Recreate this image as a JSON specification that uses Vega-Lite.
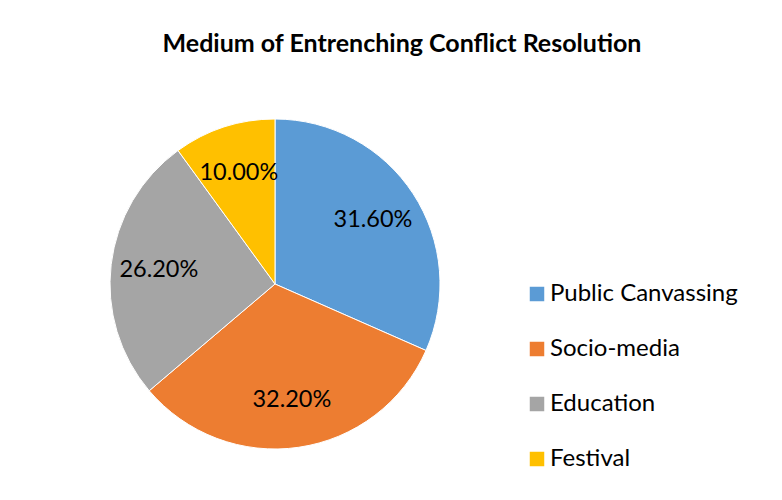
{
  "$schema": "https://vega.github.io/schema/vega-lite/v6.json",
  "autosize": "none",
  "width": 330,
  "height": 330,
  "padding": {"left": 110, "top": 119, "right": 342, "bottom": 51},
  "background": "white",
  "config": {"view": {"stroke": null}, "font": "Lato"},
  "title": {
    "text": "Medium of Entrenching Conflict Resolution",
    "font": "Lato",
    "fontSize": 25,
    "fontWeight": "bold",
    "color": "#000000",
    "anchor": "middle",
    "dx": 127,
    "offset": 60
  },
  "data": {
    "values": [
      {"medium": "Public Canvassing", "pct": 31.6, "label": "31.60%", "ord": 1},
      {"medium": "Socio-media", "pct": 32.2, "label": "32.20%", "ord": 2},
      {"medium": "Education", "pct": 26.2, "label": "26.20%", "ord": 3},
      {"medium": "Festival", "pct": 10.0, "label": "10.00%", "ord": 4}
    ]
  },
  "encoding": {
    "theta": {"field": "pct", "type": "quantitative", "stack": true},
    "order": {"field": "ord", "type": "quantitative"},
    "color": {
      "field": "medium",
      "type": "nominal",
      "sort": ["Public Canvassing", "Socio-media", "Education", "Festival"],
      "scale": {
        "domain": ["Public Canvassing", "Socio-media", "Education", "Festival"],
        "range": ["#5B9BD5", "#ED7D31", "#A5A5A5", "#FFC000"]
      },
      "legend": {
        "title": null,
        "orient": "none",
        "legendX": 415,
        "legendY": 163,
        "symbolType": "square",
        "symbolSize": 210,
        "symbolStrokeWidth": 0,
        "labelFont": "Lato",
        "labelFontSize": 24,
        "labelColor": "#000000",
        "labelOffset": 1,
        "rowPadding": 31,
        "labelLimit": 300
      }
    }
  },
  "layer": [
    {
      "mark": {"type": "arc", "outerRadius": 165, "stroke": "white", "strokeWidth": 1}
    },
    {
      "mark": {"type": "text", "radius": 117, "font": "Lato", "fontSize": 23.5, "fill": "#000000"},
      "encoding": {
        "text": {"field": "label", "type": "nominal"},
        "color": {"value": "#000000"}
      }
    }
  ]
}
